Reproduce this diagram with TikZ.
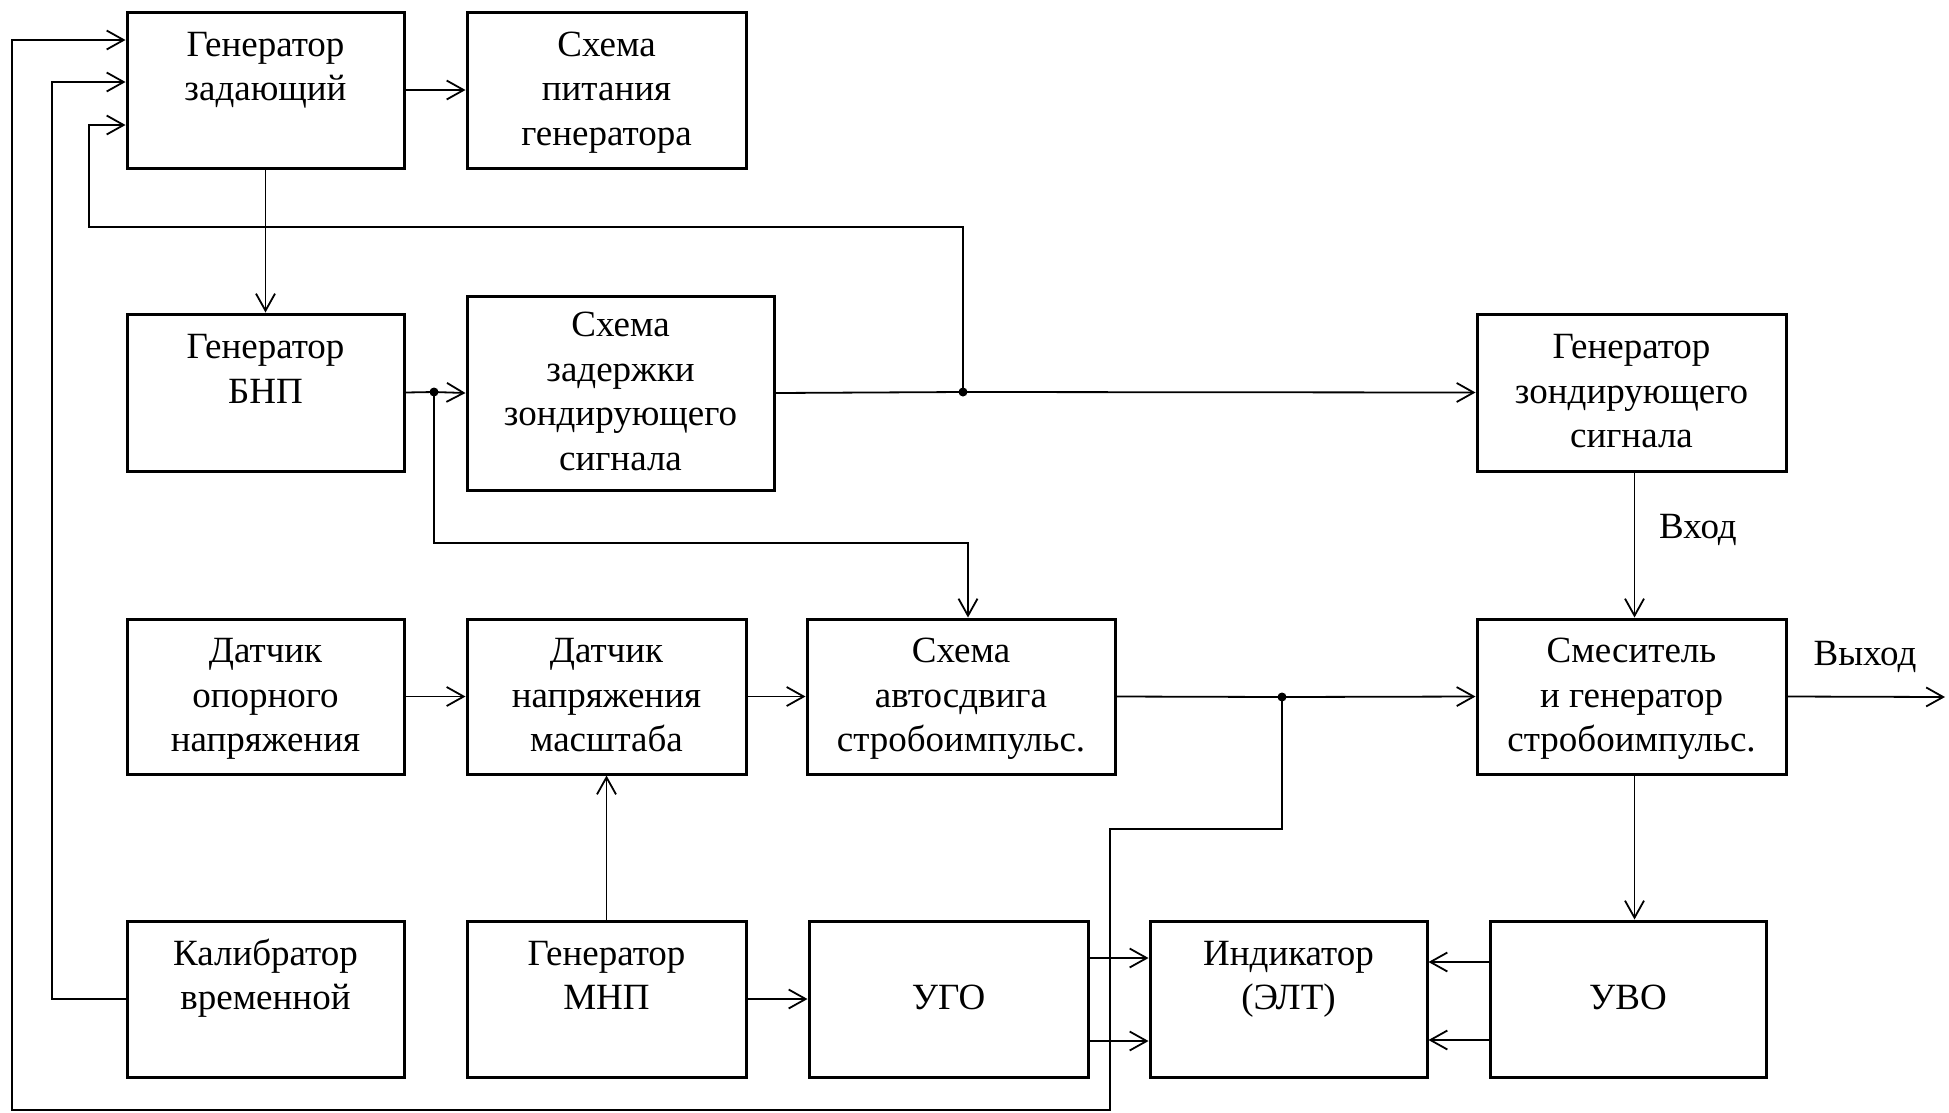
\documentclass[tikz,border=0pt]{standalone}
\usepackage{fontspec}
\setmainfont{Liberation Serif}
\usetikzlibrary{arrows.meta,calc}
% fixed height of the first line and depth of the last line of a block text
\newcommand\toprule{\rule{0pt}{30pt}}
\newcommand\botrule{\rule[-9pt]{0pt}{0pt}}
% block: name, x1, y1, x2, y2, text (coordinates in points, y downwards)
\newcommand\blk[6]{\node[blk, minimum width={#4-#2}, minimum height={#5-#3}] (#1) at ({(#2+#4)/2},{(#3+#5)/2}) {\toprule#6\botrule};}
\begin{document}
\begin{tikzpicture}[x=1pt,y=-1pt,
  blk/.style={draw, line width=3pt, inner sep=0pt, align=center,
    font=\fontsize{37}{44.5}\selectfont},
  wire/.style={line width=1.8pt, line join=miter},
  arr/.style={wire, -{Straight Barb[length=17pt,width=19pt,line width=1.8pt]}},
  jdot/.style={circle, fill, inner sep=0pt, minimum size=9pt},
  lbl/.style={font=\fontsize{37}{44.5}\selectfont, inner sep=0pt}]
\useasboundingbox (0,0) rectangle (1949,1112);

% blocks
\blk{GZ}{127}{12}{404}{168}{Генератор\\задающий\\~}
\blk{SP}{467}{12}{746}{168}{Схема\\питания\\генератора}
\blk{GB}{127}{314}{404}{471}{Генератор\\БНП\\~}
\blk{SZ}{467}{296}{774}{490}{Схема\\задержки\\зондирующего\\сигнала}
\blk{GZS}{1477}{314}{1786}{471}{Генератор\\зондирующего\\сигнала}
\blk{DO}{127}{619}{404}{774}{Датчик\\опорного\\напряжения}
\blk{DN}{467}{619}{746}{774}{Датчик\\напряжения\\масштаба}
\blk{SA}{807}{619}{1115}{774}{Схема\\автосдвига\\стробоимпульс.}
\blk{SM}{1477}{619}{1786}{774}{Смеситель\\и генератор\\стробоимпульс.}
\blk{KV}{127}{921}{404}{1077}{Калибратор\\временной\\~}
\blk{GM}{467}{921}{746}{1077}{Генератор\\МНП\\~}
\blk{UGO}{809}{921}{1088}{1077}{УГО}
\blk{IND}{1150}{921}{1427}{1077}{Индикатор\\(ЭЛТ)\\~}
\blk{UVO}{1490}{921}{1766}{1077}{УВО}

% junctions and free end
\coordinate (J1) at (963,392);
\coordinate (J2) at (434,392);
\coordinate (J3) at (1282,697);
\coordinate (out) at (1945,697);

% labels
\node[lbl] (vhod) at (1698,530) {Вход};
\node[lbl] (vyhod) at (1865,657) {Выход};

% top row
\draw[arr] (GZ.east) -- (SP.west);
\draw[arr] (GZ.south) -- (GB.north);

% delay chain
\draw[wire] (GB.east) -- (J2);
\draw[arr] (J2) -- (SZ.west);
\draw[wire] (SZ.east) -- (J1);
\draw[arr] (J1) -- (GZS.west);
\draw[arr] (J1) |- (89,227) |- ([yshift=-35pt]GZ.west);
\draw[arr] (J2) |- (968,543) -- ([xshift=7pt]SA.north);

% probe generator to mixer
\draw[arr] ([xshift=3pt]GZS.south) -- ([xshift=3pt]SM.north);

% third row
\draw[arr] (DO.east) -- (DN.west);
\draw[arr] (DN.east) -- (SA.west);
\draw[wire] (SA.east) -- (J3);
\draw[arr] (J3) -- (SM.west);
\draw[arr] (SM.east) -- (out);
\draw[arr] (GM.north) -- (DN.south);

% bottom row
\draw[arr] (GM.east) -- (UGO.west);
\draw[arr] ([yshift=41pt]UGO.east) -- ([yshift=41pt]IND.west);
\draw[arr] ([yshift=-42pt]UGO.east) -- ([yshift=-42pt]IND.west);
\draw[arr] ([yshift=37pt]UVO.west) -- ([yshift=37pt]IND.east);
\draw[arr] ([yshift=-41pt]UVO.west) -- ([yshift=-41pt]IND.east);
\draw[arr] ([xshift=3pt]SM.south) -- ([xshift=3pt]SM.south |- UVO.north);

% feedback loops to the master generator
\draw[arr] (KV.west) -| (52,82) -- ([yshift=8pt]GZ.west);
\draw[arr] (J3) -- (1282,829) -- (1110,829) -- (1110,1110) -- (12,1110) -- (12,40) -- ([yshift=50pt]GZ.west);

% junction dots
\node[jdot] (d1) at (J1) {};
\node[jdot] (d2) at (J2) {};
\node[jdot] (d3) at (J3) {};
\end{tikzpicture}
\end{document}
